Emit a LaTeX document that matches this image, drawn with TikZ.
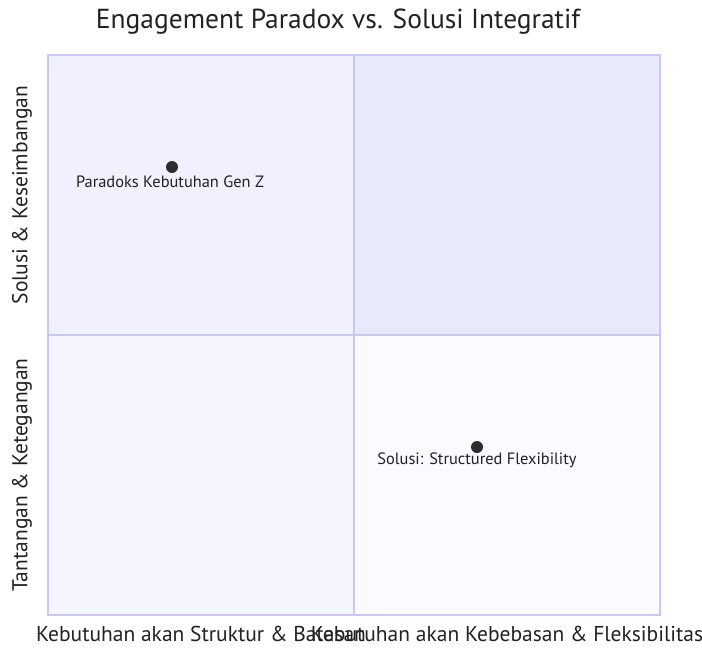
\documentclass[tikz,border=0pt]{standalone}
\usepackage{fontspec}
\setmainfont{PT Sans}
\usetikzlibrary{positioning}

\definecolor{qborder}{HTML}{C8C8F4}
\definecolor{qone}{HTML}{E9E9FC}
\definecolor{qtwo}{HTML}{F0F0FE}
\definecolor{qthree}{HTML}{F5F5FF}
\definecolor{qfour}{HTML}{FAFAFF}
\definecolor{inkdark}{HTML}{222222}

\begin{document}
\begin{tikzpicture}[x = 1pt, y = -1pt,
  every node/.style = {text = inkdark},
  titlelabel/.style = {font = \fontsize{27.5}{32}\selectfont},
  axlabel/.style = {font = \fontsize{21.5}{25}\selectfont},
  ptlabel/.style = {font = \fontsize{16.4}{19}\selectfont},
  ptdot/.style = {circle, fill = inkdark!95, inner sep = 0pt, minimum size = 12pt}]
\useasboundingbox (0,0) rectangle (702,648);

% quadrants
\fill[qtwo] (48,55) rectangle (354,335);
\fill[qone] (354,55) rectangle (660,335);
\fill[qthree] (48,335) rectangle (354,615);
\fill[qfour] (354,335) rectangle (660,615);
\draw[qborder, line width = 1.5pt] (354,55) -- (354,615);
\draw[qborder, line width = 1.5pt] (48,335) -- (660,335);
\draw[qborder, line width = 2.5pt] (48,55) rectangle (660,615);

\node[titlelabel] (title) at (338,22) {Engagement Paradox vs. Solusi Integratif};

% axis labels
\node[axlabel, rotate = 90] (ytop) at (22,195) {Solusi \& Keseimbangan};
\node[axlabel, rotate = 90] (ybot) at (22,475) {Tantangan \& Ketegangan};
\node[axlabel] (xleft) at (201,634) {Kebutuhan akan Struktur \& Batasan};
\node[axlabel] (xright) at (507,634) {Kebutuhan akan Kebebasan \& Fleksibilitas};

% points
\node[ptdot] (paradoks) at (172,167) {};
\node[ptlabel] (paradokslbl) at (170,182) {Paradoks Kebutuhan Gen Z};
\node[ptdot] (solusi) at (477,447) {};
\node[ptlabel] (solusilbl) at (477,460) {Solusi: Structured Flexibility};
\end{tikzpicture}
\end{document}
